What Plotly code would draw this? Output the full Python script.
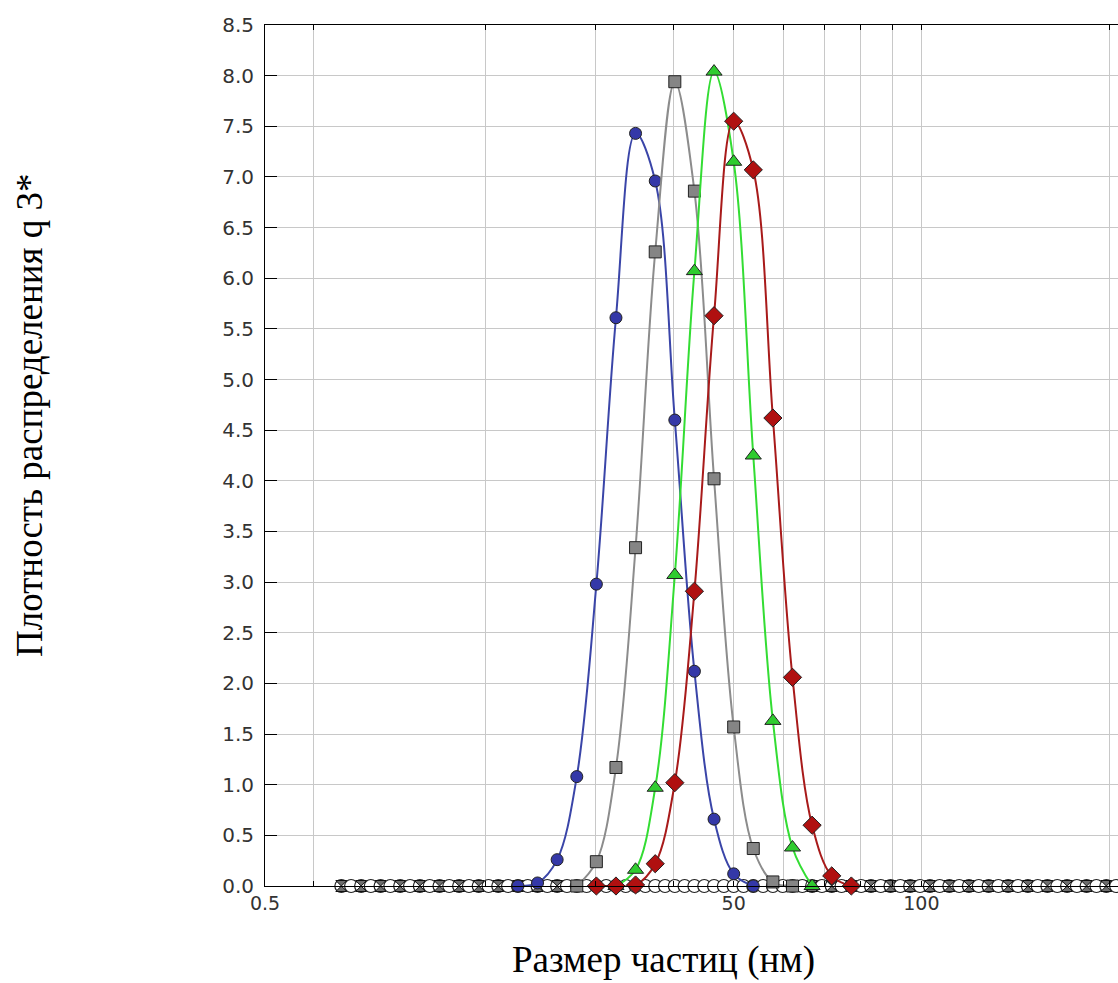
import plotly.graph_objects as go

# size classes (nm) on the log axis
sizes = [11.74, 12.63, 13.57, 14.59, 15.69, 16.87, 18.14, 19.50, 20.96, 22.54,
         24.23, 26.05, 28.01, 30.11, 32.37, 34.80, 37.42, 40.23, 43.25, 46.50,
         50.0, 53.75, 57.79, 62.13, 66.80, 71.82, 77.21, 83.01, 89.24, 95.96,
         103.2, 110.9, 119.2, 128.2, 137.8, 148.2, 159.3, 171.3, 184.1, 198.0]
half_sizes = [12.17, 13.09, 14.07, 15.13, 16.27, 17.49, 18.81, 20.22, 21.73, 23.37,
              25.12, 27.01, 29.04, 31.22, 33.56, 36.08, 38.80, 41.71, 44.85, 48.22,
              51.85, 55.73, 59.92, 64.42, 69.27, 74.47, 80.06, 86.07, 92.53, 99.50,
              107.0, 115.0, 123.6, 132.9, 142.9, 153.7, 165.2, 177.6, 190.9, 205.3]

N = None
# index 0..39 corresponds to sizes
blue_q = [N]*9 + [0.0, 0.03, 0.26, 1.08, 2.98, 5.61, 7.43, 6.96, 4.60, 2.12, 0.66, 0.12, 0.0] + [N]*18
gray_q = [N]*12 + [0.0, 0.24, 1.17, 3.34, 6.26, 7.94, 6.86, 4.02, 1.57, 0.37, 0.04, 0.0] + [N]*16
green_q = [N]*14 + [0.0, 0.16, 0.97, 3.07, 6.07, 8.04, 7.15, 4.25, 1.63, 0.38, 0.0] + [N]*15
red_q = [N]*13 + [0.0, 0.0, 0.01, 0.22, 1.02, 2.91, 5.63, 7.55, 7.07, 4.62, 2.06, 0.60, 0.10, 0.0] + [N]*13

baseline_sizes = sizes[:12] + sizes[23:]
baseline_q = [0.0] * len(baseline_sizes)
circle_sizes = sorted(sizes + half_sizes)
circle_q = [0.0] * len(circle_sizes)

x_tickvals = [8.855, 10.6, 20, 30, 40, 50, 60, 70, 80, 90, 100, 200]
x_ticktext = ["0.5", "", "", "", "", "50", "", "", "", "", "100", ""]
y_tickvals = [i * 0.5 for i in range(18)]
y_ticktext = ["%.1f" % v for v in y_tickvals]

fig = go.Figure()

fig.add_trace(go.Scatter(
    x=circle_sizes, y=circle_q, mode="markers", cliponaxis=False,
    marker=dict(symbol="circle", size=13, color="white", line=dict(color="#222", width=1.2)),
    showlegend=False))
fig.add_trace(go.Scatter(
    x=baseline_sizes, y=baseline_q, mode="markers", cliponaxis=False,
    marker=dict(symbol="hourglass", size=11, color="#6e6e6e", line=dict(color="#111", width=1)),
    showlegend=False))

series = [
    (blue_q, "#3a45a8", "#3438a8", "circle", 12),
    (gray_q, "#8c8c8c", "#858585", "square", 12),
    (green_q, "#33dd33", "#2fcc2f", "triangle-up", 14),
    (red_q, "#a81a1a", "#b01010", "diamond", 14),
]
for q, lc, mc, sym, ms in series:
    fig.add_trace(go.Scatter(
        x=sizes, y=q, mode="lines+markers", cliponaxis=False, connectgaps=False,
        line=dict(color=lc, width=2, shape="spline", smoothing=1.0),
        marker=dict(symbol=sym, size=ms, color=mc, line=dict(color="#222", width=1)),
        showlegend=False))

fig.update_layout(
    width=1118, height=983,
    margin=dict(l=265, r=0, t=25, b=97, autoexpand=False),
    paper_bgcolor="white", plot_bgcolor="white",
    font=dict(family="DejaVu Sans", size=18, color="#333"),
    xaxis=dict(type="log", range=[0.9472, 2.3154], tickmode="array",
               tickvals=x_tickvals, ticktext=x_ticktext, automargin=False,
               showgrid=True, gridcolor="#c8c8c8", gridwidth=1,
               showline=True, linecolor="black", linewidth=1, mirror="ticks",
               ticks="inside", ticklen=5, tickcolor="black",
               tickfont=dict(family="DejaVu Sans", size=19, color="#333"),
               zeroline=False),
    yaxis=dict(range=[0, 8.5], tickmode="array", tickvals=y_tickvals, ticktext=y_ticktext,
               automargin=False,
               showgrid=True, gridcolor="#c8c8c8", gridwidth=1,
               showline=True, linecolor="black", linewidth=1, mirror=False,
               ticks="inside", ticklen=12, tickcolor="black",
               tickfont=dict(family="DejaVu Sans", size=20, color="#333"),
               ticklabelstandoff=6, zeroline=False),
    annotations=[
        dict(text="Плотность распределения q 3*", xref="paper", yref="paper",
             x=0, y=0.547, xshift=-236, xanchor="center", yanchor="middle",
             textangle=-90, showarrow=False,
             font=dict(family="Liberation Serif", size=37, color="black")),
        dict(text="Размер частиц (нм)", xref="paper", yref="paper",
             x=0.4666, y=0, yshift=-74, xanchor="center", yanchor="middle",
             showarrow=False,
             font=dict(family="Liberation Serif", size=37, color="black")),
    ],
)

fig.write_html("out.html", config={"displayModeBar": False},
               post_script="document.body.style.margin='0';document.body.style.overflow='hidden';")
